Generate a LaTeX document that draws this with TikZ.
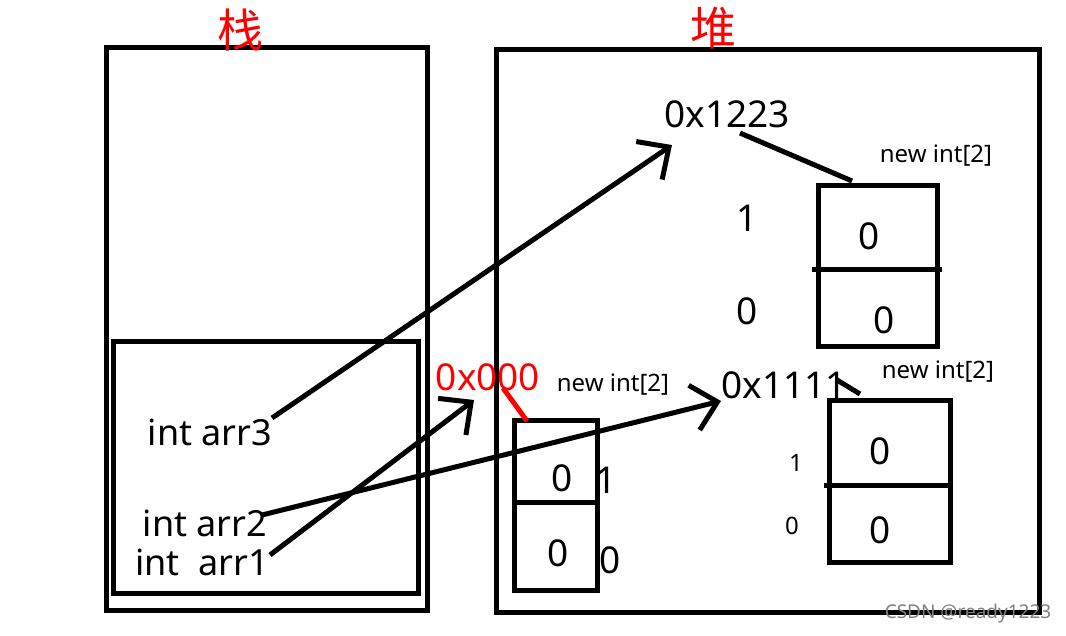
\documentclass[tikz,border=0pt]{standalone}
\usepackage{fontspec}
\setmainfont{Noto Sans}
\newfontfamily\cjk{Noto Sans CJK SC}
\usetikzlibrary{arrows.meta}
\begin{document}
\begin{tikzpicture}[x=1pt,y=-1pt,
  frame/.style={draw, line width=5pt, inner sep=0pt, anchor=north west},
  big/.style={font=\fontsize{37}{42}\selectfont, inner sep=0pt},
  mid/.style={font=\fontsize{36}{42}\selectfont, inner sep=0pt},
  small/.style={font=\fontsize{24}{28}\selectfont, inner sep=0pt},
  title/.style={font=\cjk\fontsize{46}{50}\selectfont, text=red, inner sep=0pt},
  conn/.style={line width=5pt, -{Straight Barb[length=24pt,width=46pt,line width=5pt]}},
  link/.style={line width=5pt},
  ]
\useasboundingbox (0,0) rectangle (1066,635);
% stack
\node (stack) [frame, minimum width=321pt, minimum height=563pt] at (104,45) {};
\node (frameS) [frame, minimum width=305pt, minimum height=252pt] at (111,339) {};
\node (tS) [title] at (240,30) {栈};
% heap
\node (heap) [frame, minimum width=543pt, minimum height=563pt] at (494,47) {};
\node (tH) [title] at (713,28) {堆};

% stack variables
\node (v3) [mid] at (210,432) {int arr3};
\node (v2) [mid] at (205,523) {int arr2};
\node (v1) [mid] at (202,562) {int\ \ arr1};

% addresses
\node (a1223) [big] at (727,114) {0x1223};
\node (a1111) [big] at (784,385) {0x1111};
\node (a000) [big, text=red] at (488,377) {0x000};

% box A (top right)
\node (boxA) [frame, minimum width=119pt, minimum height=161pt] at (816,183) {};
\coordinate (dA1) at (812,269);
\coordinate (dA2) at (942,269);
\draw[link] (dA1) -- (dA2);
\node (A1) [big] at (869,236) {0};
\node (A0) [big] at (884,320) {0};
\node (iA1) [big] at (747,218) {1};
\node (iA0) [big] at (747,311) {0};
\node (nA) [small] at (936,156) {new int[2]};

% box B (bottom right)
\node (boxB) [frame, minimum width=121pt, minimum height=162pt] at (827,398) {};
\coordinate (dB1) at (824,485);
\coordinate (dB2) at (953,485);
\draw[link] (dB1) -- (dB2);
\node (B1) [big] at (880,451) {0};
\node (B0) [big] at (880,530) {0};
\node (iB1) [small] at (796,463) {1};
\node (iB0) [small] at (792,526) {0};
\node (nB) [small] at (938,372) {new int[2]};

% box C (bottom left)
\node (boxC) [frame, minimum width=83pt, minimum height=170pt] at (512,418) {};
\coordinate (dC1) at (512,502);
\coordinate (dC2) at (598,502);
\draw[link] (dC1) -- (dC2);
\node (C1) [big] at (562,478) {0};
\node (C0) [big] at (558,553) {0};
\node (iC1) [big] at (606,480) {1};
\node (iC0) [big] at (610,560) {0};
\node (nC) [small] at (613,385) {new int[2]};

% connectors
\coordinate (s3) at (272,418);
\coordinate (s2) at (262,515);
\coordinate (s1) at (270,555);
\coordinate (t3) at (672,145);
\coordinate (t2) at (721,401);
\coordinate (t1) at (474,400);
\draw[conn] (s3) -- (t3);
\draw[conn] (s2) -- (t2);
\draw[conn] (s1) -- (t1);

\coordinate (l1a) at (740,133);
\coordinate (l1b) at (852,181);
\draw[link] (l1a) -- (l1b);
\coordinate (l2a) at (837,380);
\coordinate (l2b) at (860,394);
\draw[link] (l2a) -- (l2b);
\coordinate (l3a) at (503,388);
\coordinate (l3b) at (527,421);
\draw[link, red] (l3a) -- (l3b);

% watermark
\node (wm) [font=\fontsize{19}{22}\selectfont, text=gray, inner sep=0pt] at (968,614) {CSDN @ready1223};
\end{tikzpicture}
\end{document}
